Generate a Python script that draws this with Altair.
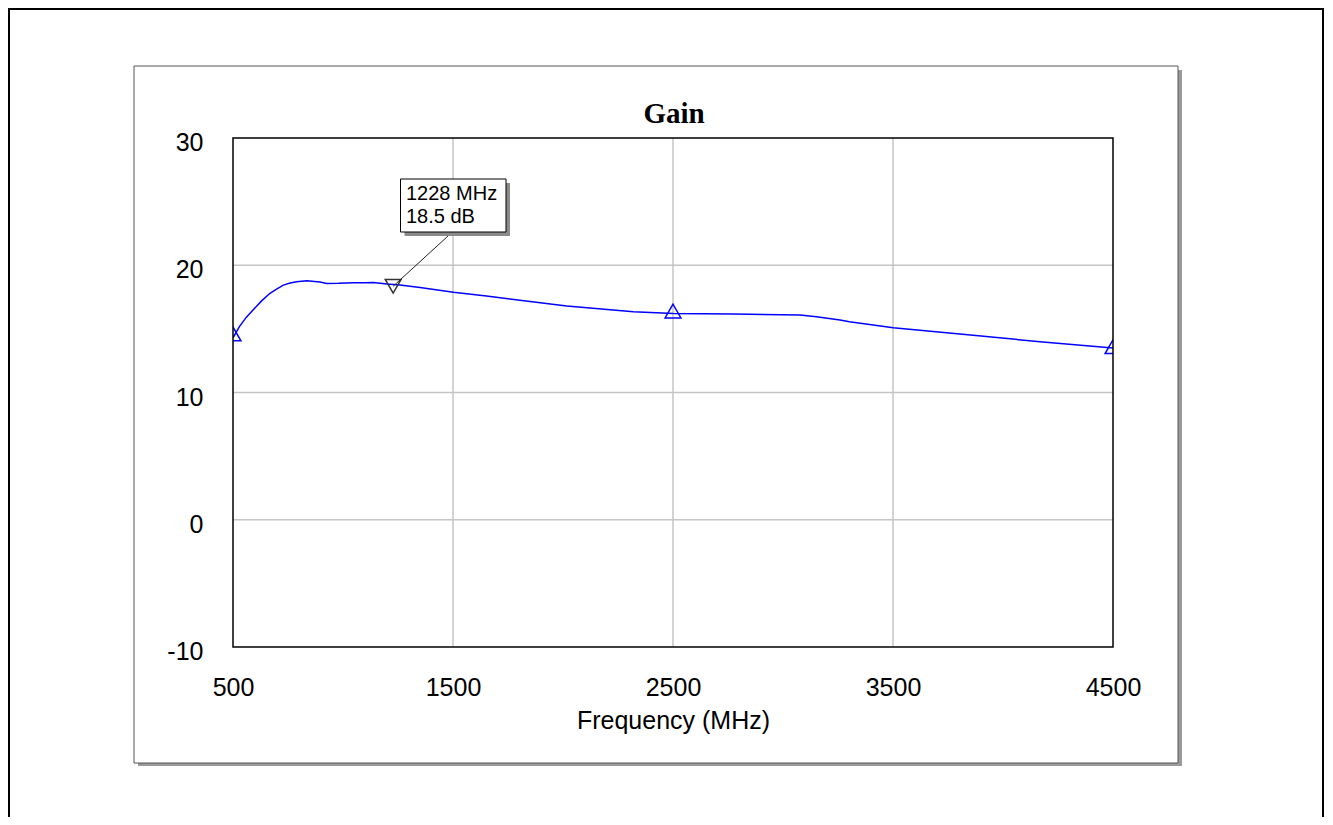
import altair as alt
import pandas as pd

# ---- data ----
freq = [500, 530, 560, 592, 630, 668, 700, 729, 760, 789, 835, 895, 926, 980,
        1047, 1100, 1138, 1199, 1259, 1350, 1502, 1652, 1714, 1804, 2017, 2320,
        2502, 2773, 3077, 3152, 3259, 3302, 3501, 3864, 4168, 4500]
gain = [14.3, 15.2, 15.9, 16.5, 17.2, 17.8, 18.15, 18.44, 18.6, 18.7, 18.78, 18.68,
        18.57, 18.58, 18.62, 18.63, 18.65, 18.52, 18.44, 18.26, 17.87, 17.58, 17.45,
        17.25, 16.8, 16.35, 16.2, 16.17, 16.09, 15.95, 15.7, 15.56, 15.09, 14.5,
        13.99, 13.5]

marker_freq = [500, 1228, 2500, 4500]
marker_gain = [14.6, 18.35, 16.4, 13.6]
marker_shape = ["triangle-up", "triangle-down", "triangle-up", "triangle-up"]
marker_color = ["#0000ff", "#333333", "#0000ff", "#0000ff"]

x_ticks = [500, 1500, 2500, 3500, 4500]
y_ticks = [-10, 0, 10, 20, 30]
grid_x = [1500, 2500, 3500]
grid_y = [0, 10, 20]

annot_freq = 1228
annot_gain = 18.5
title_text = "Gain"
x_title = "Frequency (MHz)"

# ---- tables ----
curve_df = pd.DataFrame({"freq": freq, "gain": gain})
marker_df = pd.DataFrame({"freq": marker_freq, "gain": marker_gain,
                          "shape": marker_shape, "color": marker_color})
annot_df = pd.DataFrame({"freq": [annot_freq], "gain": [marker_gain[1]],
                         "l1": [f"{annot_freq} MHz"], "l2": [f"{annot_gain} dB"]})
one = pd.DataFrame({"k": [0]})

W, H = 880, 509
FONT = "Liberation Sans"

x_scale = alt.Scale(domain=[500, 4500], nice=False, zero=False)
y_scale = alt.Scale(domain=[-10, 30], nice=False, zero=False)


def box(x, x2, y, y2, **kw):
    return alt.Chart(one).mark_rect(**kw).encode(
        x=alt.value(x), x2=alt.value(x2), y=alt.value(y), y2=alt.value(y2))


outer = box(-224, 1090, -129, 720, filled=False, stroke="black", strokeWidth=2)
panel_shadow = box(-95, 949, -68, 628, fill="#9a9a9a")
panel = box(-99, 945, -72, 625, fill="white", stroke="#555555", strokeWidth=1)

x_axis = alt.Axis(values=x_ticks, grid=False, domain=False, ticks=False, tickSize=0,
                  labelFontSize=25, labelFont=FONT, labelColor="black",
                  labelPadding=48, labelBaseline="alphabetic", labelFlush=False,
                  labelOverlap=False, labelExpr="'' + datum.value",
                  title=x_title, titleFontSize=25, titleFont=FONT,
                  titleFontWeight="normal", titleColor="black",
                  titleY=81, titleBaseline="alphabetic", zindex=1)
y_axis = alt.Axis(values=y_ticks, grid=False, domain=False, ticks=False, tickSize=0,
                  labelFontSize=25, labelFont=FONT, labelColor="black",
                  labelPadding=30, labelBaseline="alphabetic", labelOffset=12.5,
                  labelFlush=False, labelOverlap=False,
                  labelExpr="'' + datum.value", title=None, zindex=1)

gx = alt.Chart(pd.DataFrame({"freq": grid_x})).mark_rule(
    color="#c4c4c4", strokeWidth=1.5).encode(
    x=alt.X("freq:Q", scale=x_scale, axis=x_axis))
gy = alt.Chart(pd.DataFrame({"gain": grid_y})).mark_rule(
    color="#c4c4c4", strokeWidth=1.5).encode(
    y=alt.Y("gain:Q", scale=y_scale, axis=y_axis))

curve = alt.Chart(curve_df).mark_line(color="#0000ff", strokeWidth=1.5, clip=True).encode(
    x=alt.X("freq:Q", scale=x_scale, axis=x_axis),
    y=alt.Y("gain:Q", scale=y_scale, axis=y_axis))

markers = alt.Chart(marker_df).mark_point(filled=False, size=250, strokeWidth=1.5,
                                          clip=True, opacity=1).encode(
    x=alt.X("freq:Q", scale=x_scale, axis=x_axis),
    y=alt.Y("gain:Q", scale=y_scale, axis=y_axis),
    shape=alt.Shape("shape:N", scale=None, legend=None),
    stroke=alt.Stroke("color:N", scale=None, legend=None))

frame = box(0, W, 0, H, filled=False, stroke="black", strokeWidth=1.5)

leader = alt.Chart(annot_df).mark_rule(color="#222222", strokeWidth=1).encode(
    x=alt.X("freq:Q", scale=x_scale, axis=x_axis),
    y=alt.Y("gain:Q", scale=y_scale, axis=y_axis),
    x2=alt.value(215), y2=alt.value(98))
annot_shadow = box(171.5, 277, 45, 98, fill="#8a8a8a")
annot_box = box(167.5, 273, 41, 94, fill="white", stroke="black", strokeWidth=1)
annot_t1 = alt.Chart(annot_df).mark_text(align="left", baseline="alphabetic", fontSize=20,
                                         font=FONT, color="black").encode(
    x=alt.value(173), y=alt.value(62), text="l1:N")
annot_t2 = alt.Chart(annot_df).mark_text(align="left", baseline="alphabetic", fontSize=20,
                                         font=FONT, color="black").encode(
    x=alt.value(173), y=alt.value(85), text="l2:N")

title = alt.Chart(pd.DataFrame({"t": [title_text]})).mark_text(
    align="center", baseline="alphabetic", fontSize=29, fontWeight="bold",
    font="Liberation Serif", color="black").encode(
    x=alt.value(441), y=alt.value(-15), text="t:N")

chart = alt.layer(outer, panel_shadow, panel, gx, gy, curve, markers, frame,
                  leader, annot_shadow, annot_box, annot_t1, annot_t2, title).properties(
    width=W, height=H,
    padding={"left": 225, "top": 130, "right": 212, "bottom": 170},
    autosize=alt.AutoSizeParams(type="none"),
    background="white",
).configure_view(stroke=None)

chart.save("out.html", embed_options={"renderer": "svg", "actions": False})
